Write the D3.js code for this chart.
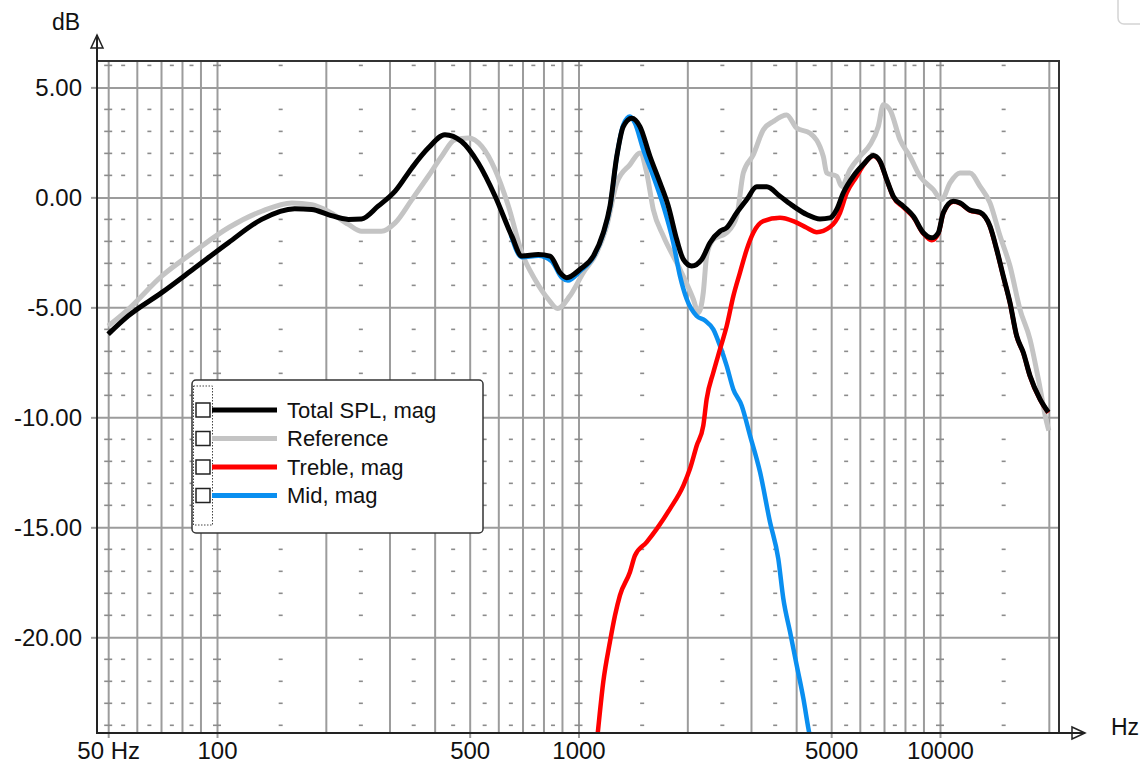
<!DOCTYPE html>
<html>
<head>
<meta charset="utf-8">
<script src="https://cdn.jsdelivr.net/npm/d3@7"></script>
<style>
  body { margin: 0; background: #fff; }
  text { font-family: "Liberation Sans", Arial, sans-serif; fill: #111; }
</style>
</head>
<body>
<div id="chart"></div>
<script>
// [Hz, dB]
var totalSpl = [
  [50,-6.22],[56.8,-5.39],[70.3,-4.33],[86.9,-3.2],[107.5,-2.06],[132.9,-1.0],[164,-0.52],[183,-0.55],
  [203,-0.78],[231,-1.0],[251,-0.98],[279,-0.4],[311,0.28],[346,1.34],[384,2.24],[427,2.85],[475,2.54],
  [528,1.56],[588,0.05],[654,-1.76],[697,-2.67],[774,-2.6],[834,-2.67],[889,-3.42],[928,-3.65],[1010,-3.27],
  [1099,-2.67],[1171,-1.61],[1222,-0.4],[1276,1.86],[1330,3.22],[1404,3.6],[1479,3.22],[1577,1.86],
  [1681,0.66],[1772,-0.4],[1869,-1.91],[1950,-2.82],[2056,-3.12],[2192,-2.82],[2311,-2.06],[2463,-1.54],
  [2570,-1.38],[2740,-0.7],[2920,-0.1],[3112,0.48],[3317,0.48],[3609,0.05],[3929,-0.4],[4280,-0.78],
  [4656,-0.98],[4963,-0.93],[5180,-0.55],[5400,0.2],[5757,0.96],[6135,1.49],[6540,1.9],[6823,1.64],
  [7123,0.81],[7428,0.05],[7918,-0.4],[8440,-0.86],[8992,-1.61],[9485,-1.84],[9892,-1.61],[10212,-0.7],
  [10885,-0.18],[11357,-0.25],[12106,-0.58],[12904,-0.68],[13750,-1.31],[14350,-2.37],[14966,-3.58],
  [15616,-4.78],[16300,-6.3],[17000,-7.05],[17740,-8.11],[18910,-9.17],[19940,-9.77]
];
var reference = [
  [50,-5.85],[56.8,-5.09],[70.3,-3.58],[86.9,-2.44],[107.5,-1.38],[132.9,-0.63],[161,-0.25],[183,-0.33],
  [203,-0.63],[231,-1.23],[251,-1.54],[285,-1.54],[311,-1.16],[346,-0.1],[384,0.96],[418,1.86],[455,2.62],
  [496,2.7],[540,2.32],[588,1.26],[640,-0.4],[697,-2.52],[758,-3.73],[825,-4.63],[875,-5.05],[945,-4.5],
  [1031,-3.42],[1123,-2.52],[1197,-1.31],[1276,0.66],[1388,1.49],[1479,2.02],[1544,1.11],[1610,-0.55],
  [1717,-1.76],[1909,-3.27],[2078,-4.63],[2145,-5.24],[2214,-4.33],[2262,-2.67],[2360,-1.91],[2570,-1.61],
  [2740,-0.86],[2857,1.11],[3045,1.94],[3245,3.07],[3458,3.45],[3765,3.75],[4014,3.15],[4371,2.92],
  [4756,1.86],[4860,1.11],[5180,0.96],[5347,0.5],[5636,1.26],[6007,1.86],[6404,2.39],[6750,3.22],
  [6969,4.21],[7272,3.98],[7752,2.62],[8260,1.86],[8804,0.96],[9583,0.35],[10109,-0.1],[10659,0.66],
  [11357,1.11],[12106,1.11],[12904,0.5],[13750,-0.25],[14660,-1.76],[15616,-3.12],[16640,-5.09],
  [17740,-6.45],[18710,-8.26],[19730,-10.23],[20000,-10.6]
];
var treble = [
  [1120,-25],[1134,-24.13],[1171,-22.02],[1222,-20.2],[1262,-19.0],[1302,-18.09],[1388,-17.03],[1433,-16.28],
  [1544,-15.67],[1646,-15.07],[1791,-14.16],[1950,-13.1],[2034,-12.34],[2123,-11.29],[2214,-10.38],
  [2262,-9.17],[2360,-7.96],[2463,-6.9],[2570,-5.85],[2680,-4.5],[2797,-3.42],[2920,-2.37],[3045,-1.61],
  [3245,-1.08],[3609,-0.93],[3929,-1.08],[4280,-1.38],[4560,-1.58],[4963,-1.35],[5290,-0.7],[5520,0.2],
  [5885,0.96],[6135,1.45],[6540,1.88],[6823,1.62],[7123,0.8],[7428,0.02],[7918,-0.45],[8440,-0.9],
  [8992,-1.65],[9485,-1.95],[9892,-1.65],[10212,-0.72],[10885,-0.2],[11357,-0.27],[12106,-0.6],
  [12904,-0.7],[13750,-1.33],[14350,-2.39],[14966,-3.6],[15616,-4.8],[16300,-6.32],[17000,-7.07],
  [17740,-8.13],[18910,-9.19],[19940,-9.79]
];
var mid = [
  [650,-1.7],[697,-2.72],[774,-2.65],[843,-2.9],[899,-3.65],[935,-3.78],[1010,-3.35],[1099,-2.72],
  [1171,-1.65],[1222,-0.45],[1276,1.85],[1330,3.3],[1388,3.68],[1430,3.4],[1511,2.17],[1610,0.96],
  [1717,-0.4],[1829,-2.06],[1909,-3.58],[1993,-4.63],[2123,-5.39],[2238,-5.6],[2360,-6.0],[2463,-6.75],
  [2570,-7.66],[2680,-8.72],[2828,-9.47],[2982,-10.83],[3178,-12.49],[3386,-14.76],[3570,-16.43],
  [3686,-18.24],[3847,-19.75],[4014,-21.27],[4188,-22.78],[4323,-24.13],[4420,-25]
];

var seriesNames = ['Total SPL, mag', 'Reference', 'Treble, mag', 'Mid, mag'];
var seriesColors = ['#000000', '#c4c4c4', '#ff0000', '#0a8ff0'];

var yTicks = [5, 0, -5, -10, -15, -20];
var xLabelTicks = [50, 100, 500, 1000, 5000, 10000];
var xLabels = ['50 Hz', '100', '500', '1000', '5000', '10000'];
var gridFreqs = [50,60,70,80,90,100,200,300,400,500,600,700,800,900,1000,2000,3000,4000,5000,
                 6000,7000,8000,9000,10000,20000];
var dashFreqs = [55,65,75,85,150,250,350,450,550,650,750,850,1500,2500,3500,4500,5500,6500,7500,8500,15000];
var crossFreqs = [50,100,1000,10000];

var margin = {top: 61, right: 81, bottom: 32, left: 97},
    width = 1140 - margin.left - margin.right,
    height = 765 - margin.top - margin.bottom;

var xScale = d3.scaleLog().domain([46.56, 21340]).range([0, width]);
var yScale = d3.scaleLinear().domain([-24.35, 6.2]).range([height, 0]);

var root = d3.select('#chart').append('svg')
    .attr('width', 1140)
    .attr('height', 765);

var svg = root.append('g')
    .attr('transform', 'translate(' + margin.left + ',' + margin.top + ')');

// grid
svg.append('g')
    .attr('transform', 'translate(0,' + height + ')')
    .call(d3.axisBottom(xScale).tickValues(gridFreqs).tickSize(-height).tickFormat(''))
    .call(g => g.select('.domain').remove())
    .selectAll('line').attr('stroke', '#9c9c9c').attr('stroke-width', 2);

svg.append('g')
    .call(d3.axisLeft(yScale).tickValues(yTicks).tickSize(-width).tickFormat(''))
    .call(g => g.select('.domain').remove())
    .selectAll('line').attr('stroke', '#9c9c9c').attr('stroke-width', 2);

// small dashes at every dB
var dbSteps = d3.range(-24, 7).filter(d => d % 5 != 0);
var dashes = [];
dashFreqs.forEach(f => dbSteps.forEach(v => dashes.push([f, v, 4])));
crossFreqs.forEach(f => dbSteps.forEach(v => dashes.push([f, v, 8])));
svg.append('g').selectAll('rect')
    .data(dashes)
    .join('rect')
    .attr('x', d => xScale(d[0]) - d[2] / 2)
    .attr('y', d => yScale(d[1]) - 0.8)
    .attr('width', d => d[2])
    .attr('height', 1.6)
    .attr('fill', '#8c8c8c');

// tick labels
svg.append('g')
    .call(d3.axisLeft(yScale).tickValues(yTicks).tickSize(6).tickPadding(9).tickFormat(d => d.toFixed(2)))
    .call(g => g.select('.domain').remove())
    .call(g => g.selectAll('line').attr('stroke', '#9c9c9c').attr('stroke-width', 2))
    .call(g => g.selectAll('text').attr('font-size', 24).attr('fill', '#111')
        .style('font-family', '"Liberation Sans", Arial, sans-serif'));

svg.append('g')
    .attr('transform', 'translate(0,' + height + ')')
    .call(d3.axisBottom(xScale).tickValues(xLabelTicks).tickSize(5).tickPadding(4)
        .tickFormat((d, i) => xLabels[i]))
    .call(g => g.select('.domain').remove())
    .call(g => g.selectAll('line').attr('stroke', '#9c9c9c').attr('stroke-width', 2))
    .call(g => g.selectAll('text').attr('font-size', 24).attr('fill', '#111')
        .style('font-family', '"Liberation Sans", Arial, sans-serif'));

// curves
svg.append('clipPath').attr('id', 'plotClip')
    .append('rect').attr('width', width).attr('height', height);

var line = d3.line()
    .x(d => xScale(d[0]))
    .y(d => yScale(d[1]))
    .curve(d3.curveMonotoneX);

var drawOrder = [[reference, 1], [mid, 3], [treble, 2], [totalSpl, 0]];
svg.append('g').attr('clip-path', 'url(#plotClip)')
    .selectAll('path')
    .data(drawOrder)
    .join('path')
    .attr('d', d => line(d[0]))
    .attr('fill', 'none')
    .attr('stroke', d => seriesColors[d[1]])
    .attr('stroke-width', d => d[1] < 2 ? 5 : 4.5)
    .attr('stroke-linejoin', 'round');

// frame and axes
svg.append('path')
    .attr('d', 'M0,0H' + width + 'V' + height)
    .attr('fill', 'none').attr('stroke', '#333').attr('stroke-width', 2);
svg.append('path')
    .attr('d', 'M0,-26V' + height + 'H' + (width + 26))
    .attr('fill', 'none').attr('stroke', '#222').attr('stroke-width', 2);
svg.append('path')
    .attr('d', 'M0,-26L-6,-13L6,-13Z')
    .attr('fill', 'none').attr('stroke', '#222').attr('stroke-width', 1.5);
svg.append('path')
    .attr('d', 'M' + (width + 26) + ',' + height + 'l-13,-6v12Z')
    .attr('fill', 'none').attr('stroke', '#222').attr('stroke-width', 1.5);

root.append('text').attr('x', 52).attr('y', 30).attr('font-size', 23).text('dB');
root.append('text').attr('x', 1111).attr('y', 735).attr('font-size', 23).text('Hz');

// stray window corner
root.append('rect')
    .attr('x', 1118).attr('y', -8).attr('width', 40).attr('height', 32).attr('rx', 6)
    .attr('fill', 'none').attr('stroke', '#d4d4d4').attr('stroke-width', 1.5);

// legend
var legend = root.append('g');
legend.append('rect')
    .attr('x', 192).attr('y', 380).attr('width', 291).attr('height', 153).attr('rx', 4)
    .attr('fill', '#fff').attr('stroke', '#333').attr('stroke-width', 1.5);
legend.append('rect')
    .attr('x', 193.5).attr('y', 386).attr('width', 19).attr('height', 139)
    .attr('fill', 'none').attr('stroke', '#444').attr('stroke-width', 1).attr('stroke-dasharray', '1.5,1.5');
var rows = legend.selectAll('g.row')
    .data(seriesNames)
    .join('g')
    .attr('class', 'row')
    .attr('transform', (d, i) => 'translate(0,' + (410 + i * 28.5) + ')');
rows.append('rect')
    .attr('x', 196).attr('y', -7).attr('width', 14).attr('height', 14)
    .attr('fill', '#fff').attr('stroke', '#222').attr('stroke-width', 1.5);
rows.append('line')
    .attr('x1', 212).attr('x2', 277)
    .attr('stroke', (d, i) => seriesColors[i]).attr('stroke-width', 5);
rows.append('text')
    .attr('x', 287).attr('dy', '0.36em').attr('font-size', 22)
    .text(d => d);
</script>
</body>
</html>
